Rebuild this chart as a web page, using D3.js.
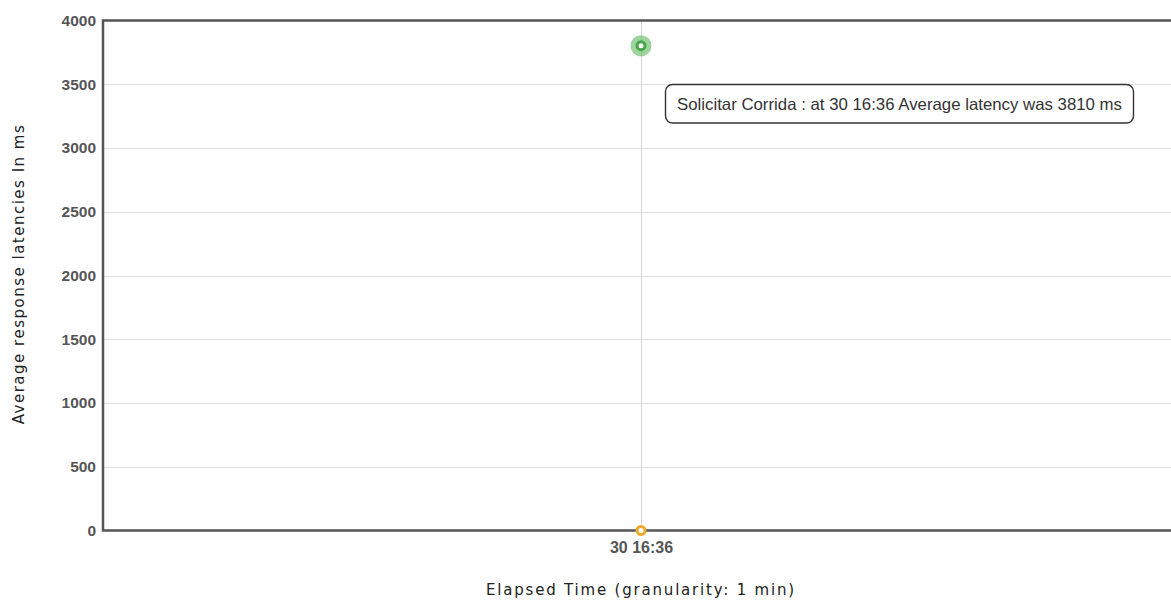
<!DOCTYPE html>
<html><head><meta charset="utf-8">
<script src="https://cdn.jsdelivr.net/npm/d3@7"></script>
<style>html,body{margin:0;padding:0;background:#fff;overflow:hidden}</style>
</head><body>
<svg id="chart" width="1171" height="601"></svg>
<script>
const categories = ["30 16:36"];
const seriesNames = ["Solicitar Corrida", "Series 2"];
const seriesValues = [[3810], [0]];
const seriesColors = ["#46a546", "#eeaa2a"];
const yTicks = [0, 500, 1000, 1500, 2000, 2500, 3000, 3500, 4000];
const xTitle = "Elapsed Time (granularity: 1 min)";
const yTitle = "Average response latencies In ms";
const tooltipText = "Solicitar Corrida : at 30 16:36 Average latency was 3810 ms";

const svg = d3.select("#chart");
const m = {left: 103, top: 20.5, right: 1179, bottom: 530.5};
const x = d3.scalePoint().domain(categories).range([m.left, m.right]).padding(0.5);
const y = d3.scaleLinear().domain([0, 4000]).range([m.bottom, m.top]);

// grid
const grid = svg.append("g");
grid.selectAll("line.h").data(yTicks.filter(d => d > 0 && d < 4000)).join("line")
  .attr("x1", m.left).attr("x2", m.right)
  .attr("y1", d => Math.round(y(d)) + 0.5).attr("y2", d => Math.round(y(d)) + 0.5)
  .attr("stroke", "#dedede").attr("stroke-width", 1);
grid.selectAll("line.v").data(categories).join("line")
  .attr("x1", d => Math.round(x(d)) + 0.5).attr("x2", d => Math.round(x(d)) + 0.5)
  .attr("y1", m.top).attr("y2", m.bottom)
  .attr("stroke", "#d4d4d4").attr("stroke-width", 1);

// axes via d3
const yAxis = d3.axisLeft(y).tickValues(yTicks).tickFormat(d3.format("d")).tickSize(0).tickPadding(7);
const gy = svg.append("g").attr("transform", `translate(${m.left},0)`).call(yAxis);
gy.select(".domain").remove();
gy.selectAll("text").attr("font-family", "Liberation Sans, Arial, sans-serif")
  .attr("font-size", 15.5).attr("font-weight", "bold").attr("fill", "#555");

const xAxis = d3.axisBottom(x).tickSize(0).tickPadding(11);
const gx = svg.append("g").attr("transform", `translate(0,${m.bottom})`).call(xAxis);
gx.select(".domain").remove();
gx.selectAll("text").attr("font-family", "Liberation Sans, Arial, sans-serif")
  .attr("font-size", 16).attr("font-weight", "bold").attr("fill", "#555");

// border
svg.append("path")
  .attr("d", `M${m.right},${m.top}H${m.left}V${m.bottom}H${m.right}`)
  .attr("fill", "none").attr("stroke", "#555").attr("stroke-width", 2.5);

// points
seriesValues.forEach((vals, si) => {
  const g = svg.append("g");
  if (si === 0) {
    g.selectAll("circle.halo").data(vals).join("circle")
      .attr("cx", (d, i) => x(categories[i])).attr("cy", d => y(d) + 1)
      .attr("r", 10.5).attr("fill", "#5cb85c").attr("fill-opacity", 0.6);
  }
  g.selectAll("circle.pt").data(vals).join("circle")
    .attr("cx", (d, i) => x(categories[i])).attr("cy", d => y(d) + (si === 0 ? 1 : 0))
    .attr("r", 4).attr("fill", "#fff")
    .attr("stroke", seriesColors[si]).attr("stroke-width", 3);
});

// titles
svg.append("text").attr("x", (m.left + m.right) / 2).attr("y", 595)
  .attr("text-anchor", "middle").attr("font-family", "DejaVu Sans, Verdana, sans-serif")
  .attr("font-size", 15).attr("letter-spacing", 1.8).attr("fill", "#222").text(xTitle);
svg.append("text").attr("transform", "translate(24,274) rotate(-90)")
  .attr("text-anchor", "middle").attr("font-family", "DejaVu Sans, Verdana, sans-serif")
  .attr("font-size", 15).attr("letter-spacing", 1.5).attr("fill", "#222").text(yTitle);

// tooltip
const tip = svg.append("g").attr("transform", "translate(665,84)");
tip.append("rect").attr("x", 0.5).attr("y", 0.5).attr("width", 468).attr("height", 38.5)
  .attr("rx", 7).attr("fill", "#fff").attr("stroke", "#333").attr("stroke-width", 1.4);
tip.append("text").attr("x", 12).attr("y", 25.5).attr("font-family", "Liberation Sans, Arial, sans-serif")
  .attr("font-size", 16.5).attr("textLength", 445).attr("lengthAdjust", "spacingAndGlyphs")
  .attr("fill", "#333").text(tooltipText);
</script>
</body></html>
